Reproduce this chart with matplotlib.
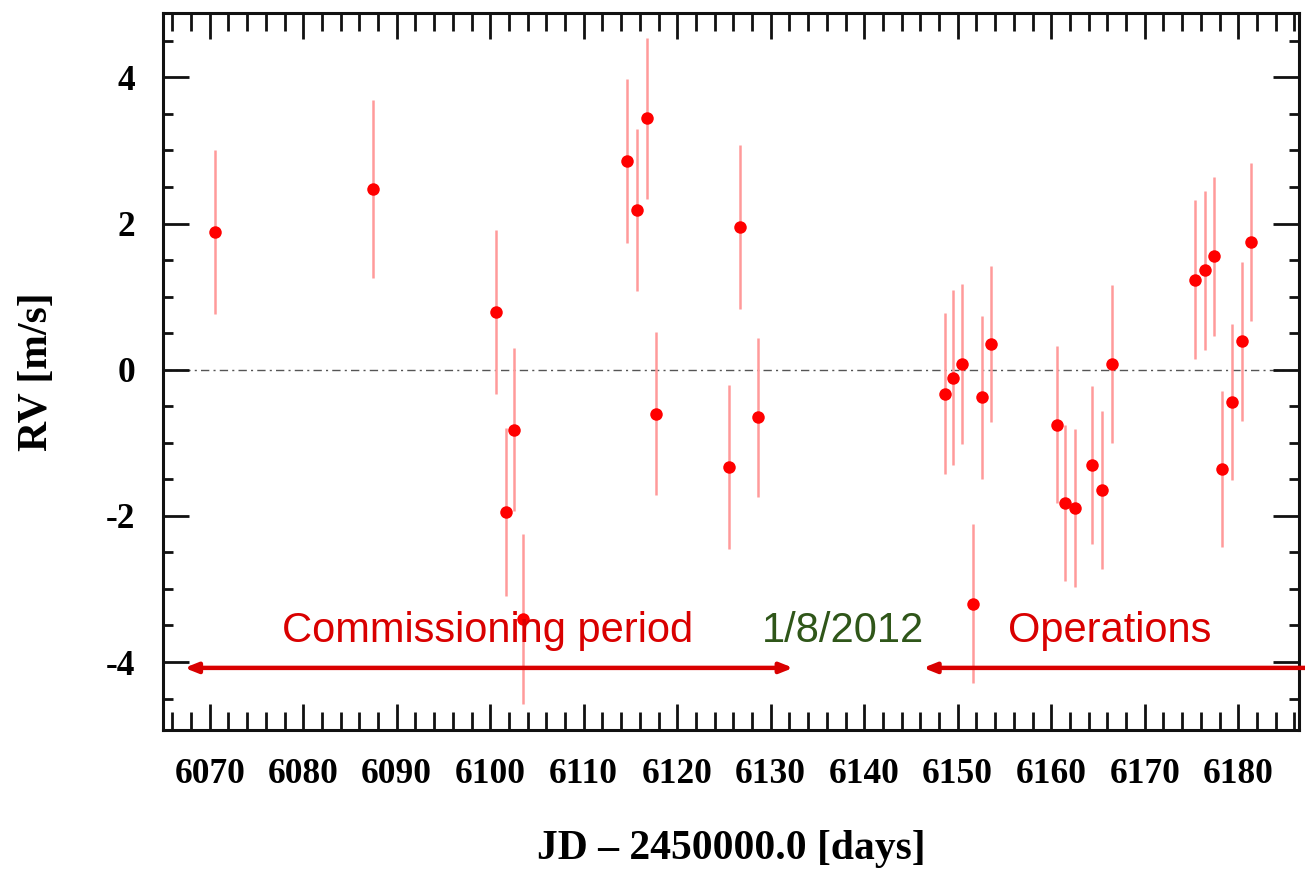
import matplotlib
matplotlib.use("Agg")
import matplotlib.pyplot as plt
from matplotlib.ticker import MultipleLocator

plt.rcParams["axes.unicode_minus"] = False

jd = [6070.6, 6087.5, 6100.6, 6101.7, 6102.5, 6103.5, 6114.6, 6115.7, 6116.8,
      6117.7, 6125.5, 6126.7, 6128.6,
      6148.6, 6149.5, 6150.5, 6151.6, 6152.6, 6153.6, 6160.6, 6161.5, 6162.5,
      6164.4, 6165.4, 6166.5, 6175.4, 6176.4, 6177.4, 6178.3, 6179.3, 6180.4,
      6181.4]
rv = [1.88, 2.47, 0.79, -1.95, -0.82, -3.41, 2.86, 2.18, 3.44,
      -0.60, -1.33, 1.95, -0.65,
      -0.33, -0.11, 0.08, -3.20, -0.38, 0.35, -0.75, -1.82, -1.89,
      -1.30, -1.65, 0.08, 1.23, 1.36, 1.55, -1.36, -0.44, 0.39,
      1.75]
rv_err = [1.12, 1.22, 1.12, 1.15, 1.12, 1.16, 1.12, 1.11, 1.10,
          1.11, 1.12, 1.12, 1.09,
          1.10, 1.20, 1.09, 1.09, 1.12, 1.07, 1.07, 1.07, 1.08,
          1.08, 1.08, 1.08, 1.09, 1.09, 1.09, 1.07, 1.07, 1.09,
          1.08]

# annotations
labels = ["Commissioning period", "1/8/2012", "Operations"]
label_x = [6099.7, 6137.7, 6166.3]
label_colors = ["#d90000", "#2f5619", "#d90000"]
label_y = -3.73
arrow_y = -4.08
commission_span = (6067.3, 6132.4)
operations_span = (6146.3, 6195.0)

RED = "#ff0000"
ERR = "#ff9a9a"
ARROW = "#d90000"

fig = plt.figure(figsize=(13.05, 8.75), dpi=100, facecolor="white")
ax = fig.add_axes([0.1249, 0.1657, 0.8705, 0.8194])

ax.axhline(0, color="#555555", lw=1.0, ls=(0, (6, 3, 1.5, 3)), zorder=1)
ax.errorbar(jd, rv, yerr=rv_err, fmt="o", color=RED, ms=9, mew=0,
            ecolor=ERR, elinewidth=1.8, capsize=0, zorder=3)

ax.set_xlim(6065.0, 6186.5)
ax.set_ylim(-4.93, 4.88)

serif = "Liberation Serif"
ax.xaxis.set_major_locator(MultipleLocator(10))
ax.xaxis.set_minor_locator(MultipleLocator(2))
ax.yaxis.set_major_locator(MultipleLocator(2))
ax.yaxis.set_minor_locator(MultipleLocator(0.5))
ax.tick_params(which="both", direction="in", top=True, right=True,
               width=2.0, color="#111111")
ax.tick_params(which="major", length=19, pad=20, labelsize=25.5)
ax.tick_params(axis="x", which="minor", length=13)
ax.tick_params(axis="y", which="minor", length=7.5)
for lab in ax.get_xticklabels() + ax.get_yticklabels():
    lab.set_family(serif)
    lab.set_weight("bold")
for s in ax.spines.values():
    s.set_linewidth(2.2)
    s.set_color("#111111")

ax.set_xlabel("JD \u2013 2450000.0 [days]", family=serif, weight="bold",
              fontsize=30, labelpad=28)
ax.set_ylabel("RV [m/s]", family=serif, weight="bold", fontsize=30,
              labelpad=36)

for txt, x, c in zip(labels, label_x, label_colors):
    ax.text(x, label_y, txt, color=c, fontsize=30, family="Liberation Sans",
            ha="center", va="baseline", zorder=4)

arrow_style = "<|-|>,head_length=0.75,head_width=0.3"
for x0, x1 in [commission_span, operations_span]:
    ax.annotate("", xy=(x1, arrow_y), xytext=(x0, arrow_y),
                annotation_clip=False,
                arrowprops=dict(arrowstyle=arrow_style, color=ARROW, lw=3.2,
                                shrinkA=0, shrinkB=0))

fig.savefig("out.png", dpi=100, facecolor="white")
